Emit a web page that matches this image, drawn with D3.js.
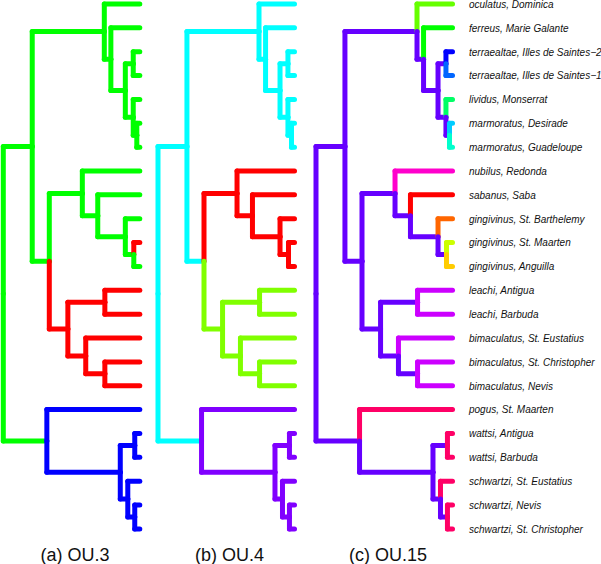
<!DOCTYPE html>
<html><head><meta charset="utf-8">
<script src="https://cdn.jsdelivr.net/npm/d3@7"></script>
<style>html,body{margin:0;padding:0;background:#fff}svg{display:block}</style>
</head><body>
<svg id="chart" width="601" height="564"></svg>
<script>
// ---- tree data (preorder): node id, parent id, branch length (tree height = 1) ----
const nodeIds = ["root","nA","nB","oculatus, Dominica","nC","ferreus, Marie Galante","nD","nE",
  "terraealtae, Illes de Saintes\u22122","terraealtae, Illes de Saintes\u22121","nF","lividus, Monserrat","nG",
  "marmoratus, Desirade","marmoratus, Guadeloupe","nH","nI","nubilus, Redonda","nJ","sabanus, Saba","nK",
  "gingivinus, St. Barthelemy","nL","gingivinus, St. Maarten","gingivinus, Anguilla","nM","nN",
  "leachi, Antigua","leachi, Barbuda","nO","bimaculatus, St. Eustatius","nP","bimaculatus, St. Christopher",
  "bimaculatus, Nevis","nQ","pogus, St. Maarten","nS","nT","wattsi, Antigua","wattsi, Barbuda","nU",
  "schwartzi, St. Eustatius","nV","schwartzi, Nevis","schwartzi, St. Christopher"];
const parentIds = [null,"root","nA","nB","nB","nC","nC","nD","nE","nE","nD","nF","nF","nG","nG","nA","nH","nI","nI","nJ","nJ",
  "nK","nK","nL","nL","nH","nM","nN","nN","nM","nO","nO","nP","nP","root","nQ","nQ","nS","nT","nT","nS","nU","nU","nV","nV"];
const branchLengths = [0,0.212,0.528,0.260,0.048,0.212,0.106,0.058,0.048,0.048,0.058,0.048,0.026,0.022,0.022,
  0.125,0.242,0.421,0.113,0.308,0.202,0.106,0.062,0.044,0.044,0.136,0.271,0.256,0.256,0.131,0.396,0.140,0.256,0.256,
  0.319,0.681,0.538,0.106,0.037,0.037,0.055,0.088,0.051,0.037,0.037];

// ---- regimes (colour index of the edge leading to each node) ----
const paletteOU3 = ["#FF0000","#00FF00","#0000FF"];
const paletteOU4 = ["#FF0000","#80FF00","#00FFFF","#8000FF"];
const paletteOU15 = ["#FF0000","#FF6600","#FFCC00","#CCFF00","#66FF00","#00FF00","#00FF66","#00FFCC",
  "#00CCFF","#0066FF","#0000FF","#6600FF","#CC00FF","#FF00CC","#FF0066"];
const regimeOU3 = [null,1,1,1,1,1,1,1,1,1,1,1,1,1,1,1,1,1,1,1,1,1,1,0,1,0,0,0,0,0,0,0,0,0,1,2,2,2,2,2,2,2,2,2,2];
const regimeOU4 = [null,2,2,2,2,2,2,2,2,2,2,2,2,2,2,2,0,0,0,0,0,0,0,0,0,1,1,1,1,1,1,1,1,1,2,3,3,3,3,3,3,3,3,3,3];
const regimeOU15 = [null,11,11,4,11,5,11,11,10,9,11,6,11,8,7,11,11,13,11,0,11,1,11,3,2,11,11,12,12,11,12,11,12,12,
  11,14,11,11,14,14,11,14,11,14,14];
const panelTitles = ["(a) OU.3","(b) OU.4","(c) OU.15"];

// ---- layout ----
const panels = [
  {rootX: 3.3, titleX: 75, regimes: regimeOU3, palette: paletteOU3, labels: false},
  {rootX: 158, titleX: 229.5, regimes: regimeOU4, palette: paletteOU4, labels: false},
  {rootX: 316, titleX: 388, regimes: regimeOU15, palette: paletteOU15, labels: true}
];
const treeWidth = 136.5, lw = 5, labelX = 469;

const rows = nodeIds.map((id, i) => ({id, parent: parentIds[i], len: branchLengths[i], idx: i}));
const root = d3.stratify().id(d => d.id).parentId(d => d.parent)(rows);
d3.cluster().size([1, 1]).separation(() => 1)(root);
root.eachBefore(n => { n.dist = n.parent ? n.parent.dist + n.data.len : 0; });
const leafPos = d3.extent(root.leaves(), n => n.x);

const y = d3.scaleLinear().domain(leafPos).range([4, 528.9]);
const svg = d3.select("#chart");

panels.forEach((p, pi) => {
  const x = d3.scaleLinear().domain([0, 1]).range([p.rootX, p.rootX + treeWidth]);
  const g = svg.append("g");
  const nodes = root.descendants().filter(n => n.parent);
  const col = n => p.palette[p.regimes[n.data.idx]];
  // horizontal edges
  g.selectAll("line.h").data(nodes).join("line").attr("class", "h")
    .attr("x1", n => x(n.parent.dist)).attr("x2", n => x(n.dist))
    .attr("y1", n => y(n.x)).attr("y2", n => y(n.x))
    .attr("stroke", col).attr("stroke-width", lw).attr("stroke-linecap", "round");
  // vertical edges (one half per child)
  g.selectAll("line.v").data(nodes).join("line").attr("class", "v")
    .attr("x1", n => x(n.parent.dist)).attr("x2", n => x(n.parent.dist))
    .attr("y1", n => y(n.parent.x)).attr("y2", n => y(n.x))
    .attr("stroke", col).attr("stroke-width", lw).attr("stroke-linecap", "round");
  if (p.labels) {
    g.selectAll("text.tip").data(root.leaves()).join("text").attr("class", "tip")
      .attr("x", labelX).attr("y", n => y(n.x)).attr("dy", "0.38em")
      .attr("font-family", "'Liberation Sans', Arial, sans-serif").attr("font-size", 10)
      .attr("font-style", "italic").attr("fill", "#111")
      .text(n => n.id);
  }
  svg.append("text").attr("x", p.titleX).attr("y", 561).attr("text-anchor", "middle")
    .attr("font-family", "'Liberation Sans', Arial, sans-serif").attr("font-size", 18)
    .attr("fill", "#111").text(panelTitles[pi]);
});
</script>
</body></html>
